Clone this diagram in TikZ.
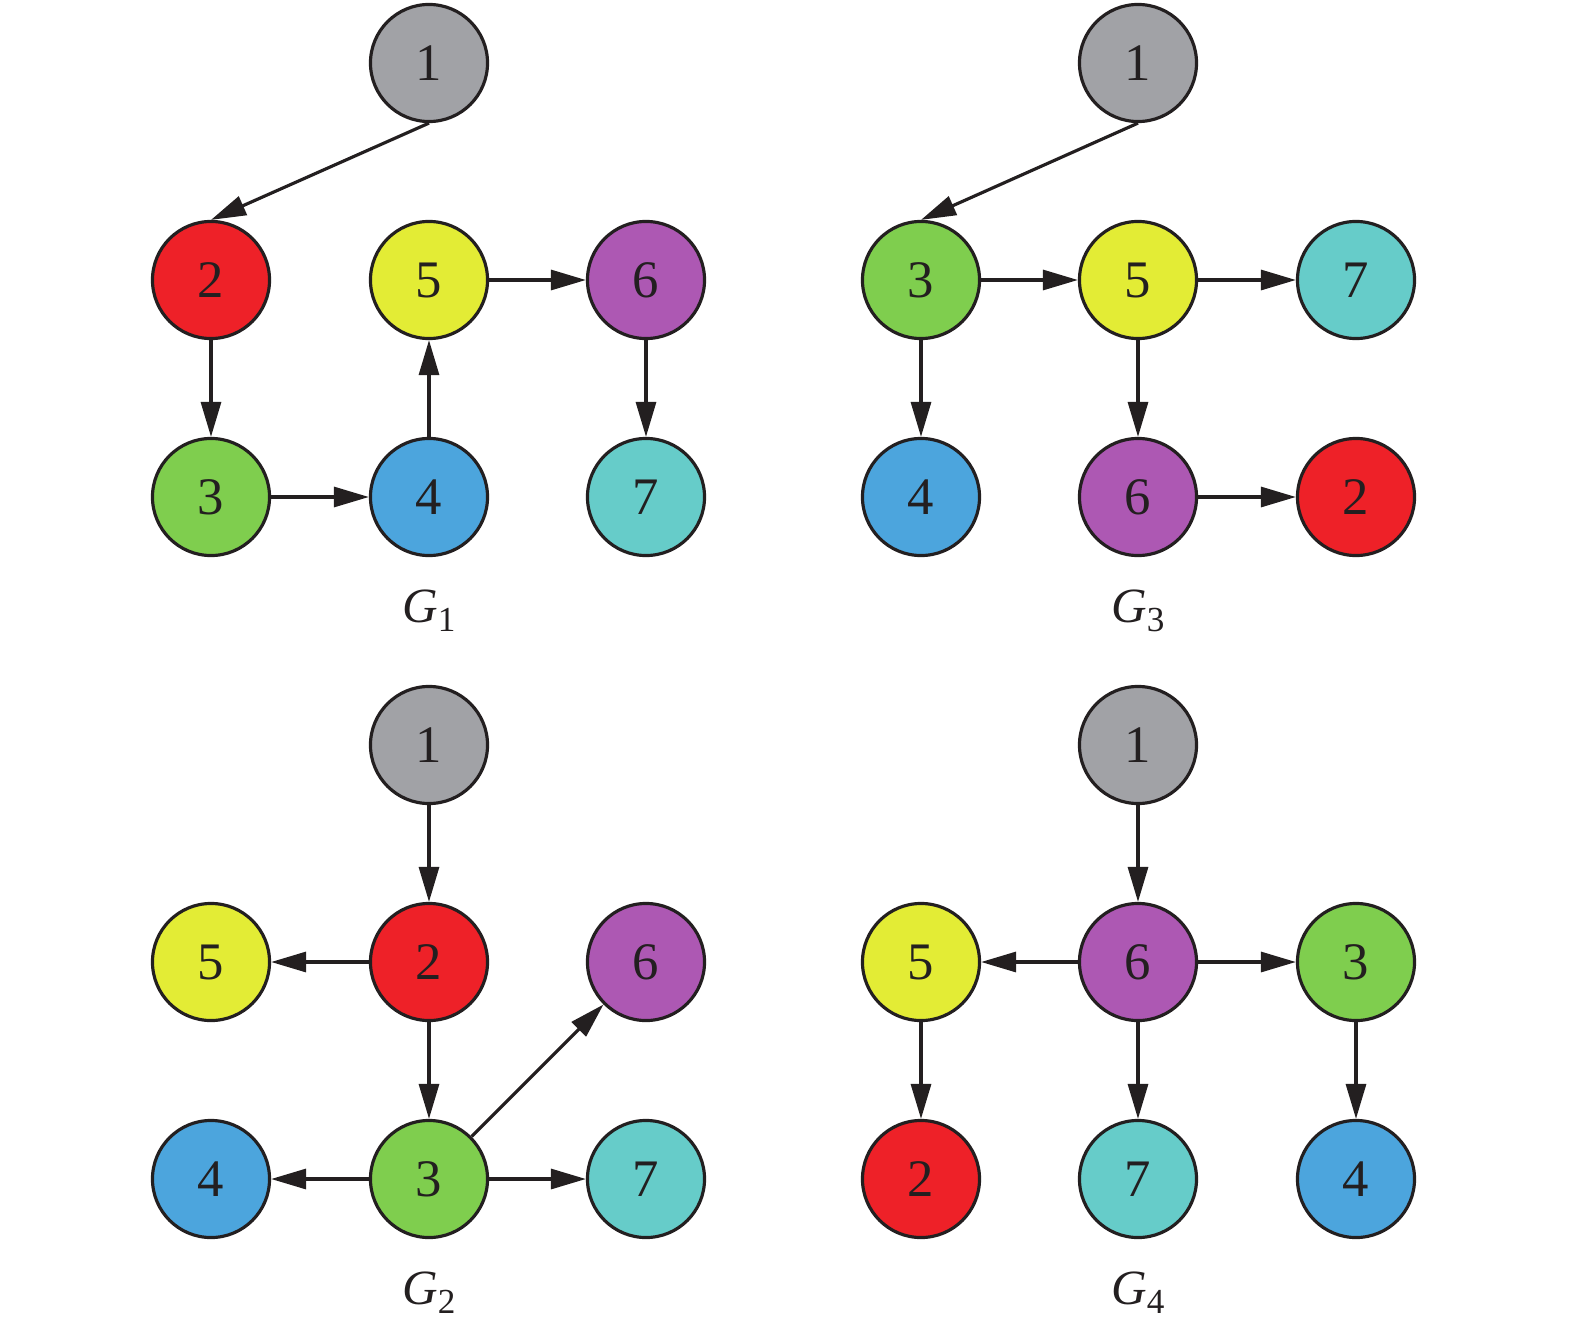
\documentclass[tikz,border=0pt]{standalone}
\usepackage{fontspec}
\setmainfont{Liberation Serif}
\usetikzlibrary{arrows.meta}
\definecolor{cgray}{HTML}{A1A2A6}
\definecolor{cred}{HTML}{EE2128}
\definecolor{cyel}{HTML}{E3EC35}
\definecolor{cpur}{HTML}{AD58B3}
\definecolor{cgrn}{HTML}{7FCE4E}
\definecolor{cblu}{HTML}{4CA5DD}
\definecolor{ccya}{HTML}{66CCC9}
\definecolor{cline}{HTML}{231F20}
\tikzset{
  vtx/.style={circle,draw=cline,line width=0.9pt,minimum size=1.17cm,inner sep=0pt,
    font=\fontsize{15}{18}\selectfont,text=cline},
  arr/.style={draw=cline,line width=0.9pt,-{Triangle[length=0.35cm,width=0.2cm]}},
  glabel/.style={font=\fontsize{14}{16}\selectfont,text=cline,inner sep=0pt,anchor=base}
}
\newcommand{\gname}[1]{\textit{G}\raisebox{-0.4ex}{\fontsize{10}{12}\selectfont #1}}
\begin{document}
\begin{tikzpicture}[x=0.01cm,y=-0.01cm]
\useasboundingbox (0,0) rectangle (1575,1339);
% G1
\node[vtx,fill=cgray] (a1) at (429,63) {1};
\node[vtx,fill=cred]  (a2) at (211,280) {2};
\node[vtx,fill=cyel]  (a5) at (429,280) {5};
\node[vtx,fill=cpur]  (a6) at (646,280) {6};
\node[vtx,fill=cgrn]  (a3) at (211,497) {3};
\node[vtx,fill=cblu]  (a4) at (429,497) {4};
\node[vtx,fill=ccya]  (a7) at (646,497) {7};
\draw[arr] (a1.south) -- (a2.north);
\draw[arr] (a2) -- (a3);
\draw[arr] (a3) -- (a4);
\draw[arr] (a4) -- (a5);
\draw[arr] (a5) -- (a6);
\draw[arr] (a6) -- (a7);
\node[glabel] (l1) at (429,622) {\gname{1}};
% G3
\node[vtx,fill=cgray] (b1) at (1138,63) {1};
\node[vtx,fill=cgrn]  (b3) at (921,280) {3};
\node[vtx,fill=cyel]  (b5) at (1138,280) {5};
\node[vtx,fill=ccya]  (b7) at (1356,280) {7};
\node[vtx,fill=cblu]  (b4) at (921,497) {4};
\node[vtx,fill=cpur]  (b6) at (1138,497) {6};
\node[vtx,fill=cred]  (b2) at (1356,497) {2};
\draw[arr] (b1.south) -- (b3.north);
\draw[arr] (b3) -- (b5);
\draw[arr] (b5) -- (b7);
\draw[arr] (b3) -- (b4);
\draw[arr] (b5) -- (b6);
\draw[arr] (b6) -- (b2);
\node[glabel] (l3) at (1138,622) {\gname{3}};
% G2
\node[vtx,fill=cgray] (c1) at (429,745) {1};
\node[vtx,fill=cyel]  (c5) at (211,962) {5};
\node[vtx,fill=cred]  (c2) at (429,962) {2};
\node[vtx,fill=cpur]  (c6) at (646,962) {6};
\node[vtx,fill=cblu]  (c4) at (211,1179) {4};
\node[vtx,fill=cgrn]  (c3) at (429,1179) {3};
\node[vtx,fill=ccya]  (c7) at (646,1179) {7};
\draw[arr] (c1) -- (c2);
\draw[arr] (c2) -- (c5);
\draw[arr] (c2) -- (c3);
\draw[arr] (c3) -- (c4);
\draw[arr] (c3) -- (c7);
\draw[arr] (c3) -- (c6);
\node[glabel] (l2) at (429,1304) {\gname{2}};
% G4
\node[vtx,fill=cgray] (d1) at (1138,745) {1};
\node[vtx,fill=cyel]  (d5) at (921,962) {5};
\node[vtx,fill=cpur]  (d6) at (1138,962) {6};
\node[vtx,fill=cgrn]  (d3) at (1356,962) {3};
\node[vtx,fill=cred]  (d2) at (921,1179) {2};
\node[vtx,fill=ccya]  (d7) at (1138,1179) {7};
\node[vtx,fill=cblu]  (d4) at (1356,1179) {4};
\draw[arr] (d1) -- (d6);
\draw[arr] (d6) -- (d5);
\draw[arr] (d6) -- (d3);
\draw[arr] (d5) -- (d2);
\draw[arr] (d6) -- (d7);
\draw[arr] (d3) -- (d4);
\node[glabel] (l4) at (1138,1304) {\gname{4}};
\end{tikzpicture}
\end{document}
